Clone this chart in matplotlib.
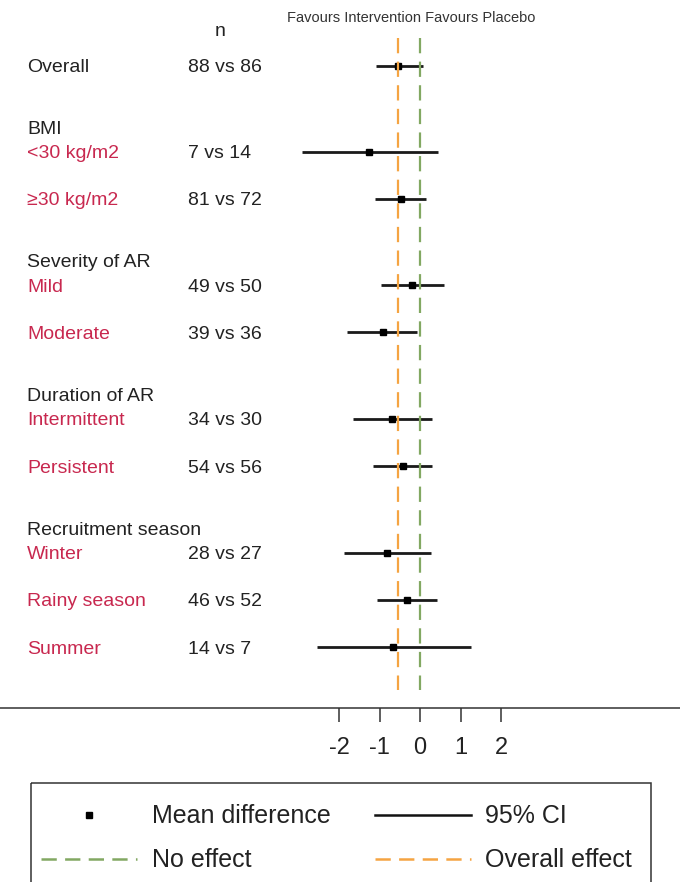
import numpy as np
import matplotlib
matplotlib.use('Agg')
import matplotlib.pyplot as plt
import matplotlib.transforms as mtransforms
from matplotlib.patches import Rectangle

plt.rcParams['font.family'] = ['Liberation Sans', 'DejaVu Sans']
plt.rcParams['lines.scale_dashes'] = False

# rows of the forest plot, top to bottom
row_labels = ['Overall', 'BMI', '<30 kg/m2', '≥30 kg/m2',
              'Severity of AR', 'Mild', 'Moderate',
              'Duration of AR', 'Intermittent', 'Persistent',
              'Recruitment season', 'Winter', 'Rainy season', 'Summer']
row_kind = ['overall', 'header', 'sub', 'sub',
            'header', 'sub', 'sub',
            'header', 'sub', 'sub',
            'header', 'sub', 'sub', 'sub']
n_text = ['88 vs 86', '', '7 vs 14', '81 vs 72',
          '', '49 vs 50', '39 vs 36',
          '', '34 vs 30', '54 vs 56',
          '', '28 vs 27', '46 vs 52', '14 vs 7']
nan = np.nan
mean_diff = [-0.54, nan, -1.26, -0.47, nan, -0.20, -0.91, nan, -0.69, -0.42, nan, -0.81, -0.32, -0.67]
ci_low = [-1.09, nan, -2.91, -1.11, nan, -0.96, -1.80, nan, -1.65, -1.16, nan, -1.88, -1.06, -2.54]
ci_high = [0.07, nan, 0.44, 0.15, nan, 0.59, -0.07, nan, 0.30, 0.30, nan, 0.27, 0.42, 1.26]
ticks = [-2, -1, 0, 1, 2]

green = '#82a862'
orange = '#f5a442'
red = '#c8284f'
dark = '#222222'

W, H = 680, 882
fig = plt.figure(figsize=(W / 100, H / 100), dpi=100)

# main panel: x in effect units, y in pixel rows (0 at top)
axis_y = 708
ax = fig.add_axes([0, 1 - axis_y / H, 1, axis_y / H])
unit = 40.5
zero_px = 420
ax.set_xlim(-zero_px / unit, (W - zero_px) / unit)
ax.set_ylim(axis_y, 0)
for s in ['left', 'right', 'top']:
    ax.spines[s].set_visible(False)
ax.spines['bottom'].set_linewidth(1.1)
ax.spines['bottom'].set_color('#333333')
ax.set_yticks([])
ax.set_xticks(ticks)
ax.set_xticklabels([str(t) for t in ticks], fontsize=17)
ax.tick_params(axis='x', direction='out', length=10, width=1.1, pad=11, colors='#333333', labelcolor=dark)

# vertical row positions
ys = []
y = 66
for i, kind in enumerate(row_kind):
    if i > 0:
        prev = row_kind[i - 1]
        if kind == 'header':
            y += 61 if prev == 'overall' else 62
        elif prev == 'header':
            y += 24.5
        else:
            y += 47.2
    ys.append(y)

trans = mtransforms.blended_transform_factory(ax.transAxes, ax.transData)
for lab, kind, n, yy in zip(row_labels, row_kind, n_text, ys):
    col = red if kind == 'sub' else dark
    ax.text(27 / W, yy + 2, lab, transform=trans, fontsize=14, color=col, va='center', ha='left')
    if n:
        ax.text(188 / W, yy + 2, n, transform=trans, fontsize=14, color=dark, va='center', ha='left')
ax.text(220 / W, 31, 'n', transform=trans, fontsize=14, color=dark, va='center', ha='center')

for m, lo, hi, yy in zip(mean_diff, ci_low, ci_high, ys):
    if np.isnan(m):
        continue
    ax.plot([lo, hi], [yy, yy], color='#1a1a1a', lw=2.0, solid_capstyle='butt', zorder=2)
    ax.plot([m], [yy], 's', color='black', ms=5, zorder=3)

ax.plot([0, 0], [38, 690], color=green, lw=1.6, ls='--', dashes=(11, 6), zorder=4)
ax.plot([mean_diff[0], mean_diff[0]], [38, 690], color=orange, lw=1.6, ls='--', dashes=(11, 6), zorder=4)

fig.text(411 / W, 1 - 18 / H, 'Favours Intervention Favours Placebo', fontsize=10.5,
         color='#333333', ha='center', va='center')

# legend drawn in pixel space
lax = fig.add_axes([0, 0, 1, 1])
lax.set_xlim(0, W)
lax.set_ylim(H, 0)
lax.axis('off')
lax.add_patch(Rectangle((31, 783), 620, 140, fill=False, lw=1.1, ec='#333333'))
lax.plot([89], [815], 's', color='black', ms=4)
lax.plot([375, 471], [815, 815], color='#111111', lw=1.8)
lax.plot([41, 137], [859, 859], color=green, lw=1.8, ls='--', dashes=(11, 6))
lax.plot([375, 471], [859, 859], color=orange, lw=1.8, ls='--', dashes=(11, 6))
lax.text(152, 816, 'Mean difference', fontsize=18, color=dark, va='center')
lax.text(485, 816, '95% CI', fontsize=18, color=dark, va='center')
lax.text(152, 860, 'No effect', fontsize=18, color=dark, va='center')
lax.text(485, 860, 'Overall effect', fontsize=18, color=dark, va='center')

fig.savefig('out.png', dpi=100)
